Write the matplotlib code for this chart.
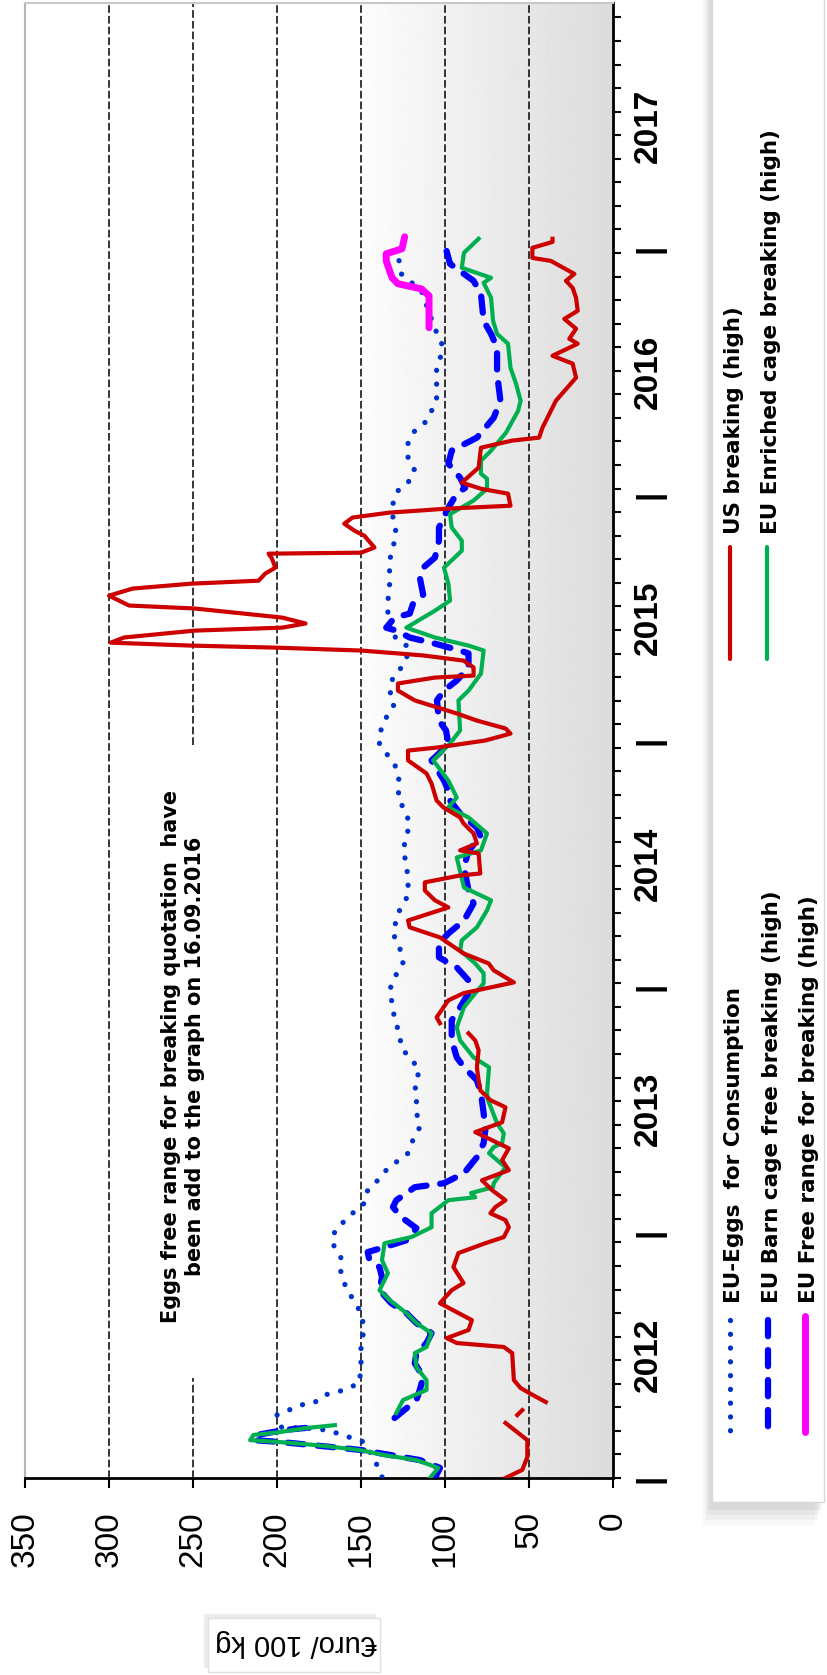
import numpy as np
import matplotlib
matplotlib.use("Agg")
import matplotlib.pyplot as plt
from matplotlib.patches import Rectangle
from matplotlib.ticker import FixedLocator, NullFormatter
import matplotlib.transforms as mtrans

nan = float("nan")

# ---- data (time in decimal years, value in Euro/100 kg) ----
cons_t = [2012.004, 2012.053, 2012.146, 2012.175, 2012.195, 2012.203, 2012.207, 2012.256, 2012.276, 2012.297,
          2012.305, 2012.337, 2012.358, 2012.386, 2012.451, 2012.533, 2012.614, 2012.683, 2012.776, 2012.833,
          2012.898, 2012.955, 2013.008, 2013.077, 2013.118, 2013.171, 2013.211, 2013.252, 2013.280, 2013.321,
          2013.362, 2013.427, 2013.488, 2013.549, 2013.606, 2013.659, 2013.711, 2013.748, 2013.809, 2013.862,
          2013.915, 2013.984, 2014.037, 2014.093, 2014.159, 2014.215, 2014.297, 2014.370, 2014.431, 2014.500,
          2014.553, 2014.663, 2014.715, 2014.768, 2014.825, 2014.890, 2014.939, 2014.988, 2015.028, 2015.093,
          2015.150, 2015.203, 2015.256, 2015.313, 2015.378, 2015.407, 2015.459, 2015.516, 2015.569, 2015.622,
          2015.679, 2015.732, 2015.785, 2015.841, 2015.907, 2015.963, 2016.016, 2016.049, 2016.098, 2016.150,
          2016.211, 2016.260, 2016.293, 2016.341, 2016.382, 2016.435, 2016.516, 2016.573, 2016.618, 2016.675,
          2016.829, 2016.898, 2017.000]
cons_v = [137.5, 140.5, 148, 161, 170, 183, 198, 200, 193, 186,
          178, 172, 160, 151, 150, 150, 148, 151, 159, 162,
          162, 167, 165.5, 155, 148, 146, 140, 135, 130, 122,
          120, 115, 117, 117, 118, 115, 121, 126, 127, 130,
          131, 133, 130, 125, 127, 131, 128, 122, 122, 123,
          125, 121, 124, 128, 127, 129, 134, 139, 139, 135,
          130, 133, 131, 124, 121, 128, 134, 134, 134, 133,
          133, 133, 131, 129, 131, 131, 128, 122, 118, 122,
          122, 118, 112, 108, 105, 105, 105, 102, 102, 106,
          114, 126, 128.6]

barn_t = [2012.0, 2012.041, 2012.073, 2012.114, 2012.146, 2012.154, 2012.175, 2012.195, 2012.207, nan,
          2012.244, 2012.317, 2012.358, 2012.411, 2012.467, 2012.508, 2012.549, 2012.589, 2012.630, 2012.671,
          2012.711, 2012.764, 2012.817, 2012.858, 2012.886, 2012.919, 2012.939, 2012.967, 2013.016, 2013.061,
          2013.102, 2013.130, 2013.163, 2013.183, 2013.199, 2013.240, 2013.305, 2013.362, 2013.415, 2013.484,
          2013.565, 2013.618, 2013.671, 2013.711, 2013.780, 2013.862, 2013.915, 2013.972, 2014.024, 2014.077,
          2014.118, 2014.175, 2014.215, 2014.268, 2014.337, 2014.390, 2014.484, 2014.553, 2014.606, 2014.646,
          2014.703, 2014.756, 2014.797, 2014.837, 2014.919, 2014.947, 2014.988, 2015.041, 2015.081, 2015.163,
          2015.203, 2015.244, 2015.297, 2015.354, 2015.366, 2015.394, 2015.419, 2015.447, 2015.459, 2015.500,
          2015.516, 2015.557, 2015.593, 2015.663, 2015.703, 2015.744, 2015.813, 2015.866, 2015.947, 2016.004,
          2016.028, 2016.069, 2016.126, 2016.179, 2016.232, 2016.313, 2016.382, 2016.492, 2016.598, 2016.654,
          2016.707, 2016.817, 2016.870, 2016.939, 2017.000, 2017.020]
barn_v = [106, 103, 115, 150, 197, 214, 212, 196, 178, nan,
          130, 117, 115, 113, 118, 117, 111, 108, 117, 123,
          132, 139, 137.5, 139, 145, 146, 136, 123, 117, 126,
          131, 129, 122, 118, 100.6, 88.7, 81, 77, 76, 77,
          78.6, 81, 88.7, 93, 96, 96, 91, 86, 86, 93,
          103.6, 103.6, 98, 88.7, 83, 86, 88.7, 86, 78.6, 81,
          91, 97, 98, 100.6, 108, 103.6, 98, 99.4, 103.6, 104.8,
          100.6, 93, 86, 86, 91, 106, 121, 129, 135, 130,
          121, 119, 113, 115, 113, 106, 103.6, 103.6, 98, 93,
          88, 91, 98, 96, 81, 71, 67, 69, 69, 72.6,
          77, 78.6, 83, 97, 99.4, 93.5]

enr_t = [2012.0, 2012.041, 2012.073, 2012.093, 2012.114, 2012.134, 2012.146, 2012.154, 2012.175, 2012.187,
         2012.203, 2012.215, nan,
         2012.264, 2012.317, 2012.358, 2012.398, 2012.451, 2012.508, 2012.533, 2012.589, 2012.630, 2012.671,
         2012.724, 2012.764, 2012.833, 2012.886, 2012.955, 2012.980, 2013.020, 2013.077, 2013.130, 2013.142,
         2013.159, 2013.183, 2013.199, 2013.264, 2013.321, 2013.346, 2013.362, 2013.402, 2013.443, 2013.537,
         2013.565, 2013.671, 2013.711, 2013.780, 2013.833, 2013.915, 2013.972, 2014.012, 2014.053, 2014.093,
         2014.146, 2014.187, 2014.240, 2014.309, 2014.350, 2014.402, 2014.524, 2014.553, 2014.622, 2014.687,
         2014.728, 2014.768, 2014.837, 2014.919, 2014.988, 2015.041, 2015.163, 2015.203, 2015.272, 2015.366,
         2015.386, 2015.419, 2015.459, 2015.528, 2015.569, 2015.638, 2015.703, 2015.772, 2015.813, 2015.866,
         2015.921, 2015.976, 2016.024, 2016.065, 2016.085, 2016.138, 2016.179, 2016.252, 2016.341, 2016.382,
         2016.451, 2016.516, 2016.614, 2016.654, 2016.707, 2016.801, 2016.862, 2016.882, 2016.923, 2016.984,
         2017.041]
enr_v = [109, 104, 117, 136, 151, 177, 198, 216, 214, 198,
         183, 165.5, nan,
         129, 125, 111, 111, 117, 118, 111, 108, 117, 123,
         133, 139, 134, 137.5, 136, 120, 108, 108, 98, 82,
         84.5, 71.4, 71, 64, 73.8, 71, 66, 65, 69, 74.4,
         75, 73.8, 83, 91, 93, 88.7, 82, 77, 77, 82,
         91, 90, 81, 75, 72.6, 88.7, 93, 78.6, 75, 86,
         98, 93, 98, 107, 97, 91, 92, 86, 78.6, 77,
         86, 106, 123, 106, 97, 98, 100.6, 90, 90, 96,
         97, 83, 75, 75, 78.6, 78.6, 72.6, 63.7, 56.5, 55,
         57.7, 61, 62.5, 69, 71.4, 72.6, 77, 72.6, 90, 88.7,
         80]

us_t = [2012.0, 2012.033, 2012.085, 2012.154, 2012.224, nan,
        2012.256, 2012.276, nan,
        2012.309, 2012.337, 2012.366, 2012.398, 2012.508, 2012.533, 2012.549, 2012.569, 2012.602, 2012.642,
        2012.671, 2012.711, 2012.764, 2012.793, 2012.858, 2012.915, 2012.955, 2012.980, 2013.020, 2013.049,
        2013.077, 2013.102, 2013.130, 2013.171, 2013.211, 2013.252, 2013.293, 2013.341, 2013.374, 2013.407,
        2013.447, 2013.508, 2013.537, 2013.577, 2013.618, 2013.671, 2013.740, 2013.780, 2013.809, nan,
        2013.850, 2013.874, 2013.943, 2013.972, 2014.016, 2014.065, 2014.093, 2014.134, 2014.199, 2014.240,
        2014.268, 2014.321, 2014.350, 2014.390, 2014.423, 2014.451, 2014.459, 2014.541, 2014.553, 2014.581,
        2014.622, 2014.663, 2014.687, 2014.728, 2014.756, 2014.825, 2014.866, 2014.919, 2014.959, 2014.972,
        2015.000, 2015.028, 2015.049, 2015.081, 2015.110, 2015.163, 2015.203, 2015.232, 2015.256, 2015.264,
        2015.297, 2015.325, 2015.346, 2015.366, 2015.378, 2015.386, 2015.398, 2015.419, 2015.447, 2015.459,
        2015.476, 2015.500, 2015.537, 2015.549, 2015.589, 2015.618, 2015.638, 2015.650, 2015.679, 2015.703,
        2015.740, 2015.760, 2015.764, 2015.785, 2015.833, 2015.854, 2015.882, 2015.907, 2015.927, 2015.943,
        2015.955, 2016.004, 2016.024, 2016.049, 2016.110, 2016.191, 2016.220, 2016.232, 2016.272, 2016.341,
        2016.382, 2016.476, 2016.533, 2016.565, 2016.614, 2016.634, 2016.675, 2016.715, 2016.748, 2016.801,
        2016.841, 2016.870, 2016.898, 2016.951, 2016.963, 2017.004, 2017.028, 2017.041]
us_v = [64, 54, 51, 51, 64, nan,
        57, 54, nan,
        40, 47.6, 55, 59, 60, 65, 93, 99, 86, 84,
        92, 103, 96, 89, 95, 92, 76, 65, 62, 64,
        73, 70, 64, 72, 78, 62, 66, 62, 72, 82,
        66, 64, 73, 79, 80, 81, 80, 82, 86, nan,
        103, 105, 98, 89, 59, 71, 74, 89, 103, 121,
        122, 98, 106, 112, 112, 91, 79, 80, 91, 81,
        83, 89, 91, 101, 105, 108, 111, 122, 122, 104,
        76, 61, 64, 81, 93, 118, 128, 128, 106, 83,
        83, 89, 113, 150, 202, 251, 299, 291, 249, 197,
        183, 197, 249, 288, 300, 286, 251, 211, 207, 201,
        203, 205, 150, 142, 148, 154, 160, 155, 133, 99,
        61, 62.5, 78.6, 90, 80, 78.6, 60, 44, 42, 37,
        34, 22, 24, 36, 21, 26, 22, 29, 21, 22,
        24, 28, 23, 37, 48, 48, 36, 36]

free_t = [2016.679, 2016.809, 2016.837, 2016.858, 2016.882, 2016.951, 2016.980, 2017.000, 2017.049]
free_v = [109.5, 109.5, 114, 128, 131.5, 135, 135, 125.6, 124]

years = [2012, 2013, 2014, 2015, 2016, 2017]
value_ticks = [0, 50, 100, 150, 200, 250, 300, 350]
grid_values = [50, 100, 150, 200, 250, 300]

C_CONS = "#0033cc"
C_BARN = "#0000ff"
C_ENR = "#00b050"
C_US = "#cc0000"
C_FREE = "#ff00ff"

W, H = 827, 1675
fig = plt.figure(figsize=(W / 100, H / 100), dpi=100)
fig.patch.set_facecolor("white")
ax = fig.add_axes([25 / W, 1 - 1478 / H, 588 / W, 1475 / H])


def fx(px):
    return px / W


def fy(py):
    return 1 - py / H


# background: white on the left, light grey gradient towards 0
grad = np.linspace(0.99, 0.86, 256)
ax.imshow(grad[None, :], extent=[150, 0, 2012, 2018], aspect="auto",
          cmap="gray", vmin=0, vmax=1, zorder=0, interpolation="bilinear")
ax.set_xlim(350, 0)
ax.set_ylim(2012, 2018)

# dashed vertical grid, the 250 line is broken by the note
for g in grid_values:
    if g == 250:
        ax.vlines([g, g], [2012, 2014.98], [2012.407, 2018], colors="black",
                  lw=1.1, linestyles=(0, (5, 2)), zorder=1)
    else:
        ax.axvline(g, color="black", lw=1.1, ls=(0, (5, 2)), zorder=1)

# series
ax.plot(cons_v, cons_t, color=C_CONS, lw=3.8, ls=(0, (0.01, 2.6)),
        dash_capstyle="round", zorder=3)
ax.plot(barn_v, barn_t, color=C_BARN, lw=4.5, ls=(0, (2.6, 2.2)),
        dash_capstyle="round", zorder=4)
ax.plot(enr_v, enr_t, color=C_ENR, lw=3.0, zorder=5, solid_joinstyle="round")
ax.plot(us_v, us_t, color=C_US, lw=3.0, zorder=6, solid_joinstyle="round")
ax.plot(free_v, free_t, color=C_FREE, lw=5.0, zorder=7,
        solid_capstyle="round", solid_joinstyle="round")

# spines
ax.spines["left"].set_color("#b5b5b5")
ax.spines["left"].set_linewidth(1.5)
ax.spines["top"].set_color("#c8c8c8")
ax.spines["top"].set_linewidth(1.5)
ax.spines["bottom"].set_color("black")
ax.spines["bottom"].set_linewidth(2)
ax.spines["right"].set_color("black")
ax.spines["right"].set_linewidth(2)

# value axis (bottom)
ax.xaxis.set_major_locator(FixedLocator(value_ticks))
ax.set_xticklabels([str(v) for v in value_ticks], rotation=90,
                   family="Liberation Sans", fontsize=24)
ax.tick_params(axis="x", direction="out", length=7, width=1.5, pad=17)

# time axis (right), minor ticks every 5 weeks
ax.yaxis.tick_right()
tick_pos = np.arange(2012, 2018.001, 35 / 365.25)
ax.yaxis.set_major_locator(FixedLocator(tick_pos))
ax.yaxis.set_major_formatter(NullFormatter())
ax.tick_params(axis="y", direction="out", length=6, width=1.5)

yt = mtrans.blended_transform_factory(ax.transAxes, ax.transData)
for y in years:
    ax.text(1.0595, y + 0.5, str(y), transform=yt, rotation=90, ha="center",
            va="center", fontsize=24, fontweight="bold", family="Liberation Sans")
for y in years:
    ax.text(1.063, y, "|", transform=yt, rotation=90, ha="center", va="center",
            fontsize=24, fontweight="bold", family="Liberation Sans", clip_on=False)

# note
ax.text(256, 2013.715,
        "Eggs free range for breaking quotation  have\nbeen add to the graph on 16.09.2016",
        rotation=90, ha="center", va="center", multialignment="center",
        fontsize=15, fontweight="bold", linespacing=1.3, zorder=8)

# legend box with soft shadow
for i, a in enumerate([0.06, 0.08, 0.10, 0.12]):
    d = 9 - i * 2
    fig.add_artist(Rectangle((fx(712 - d), fy(1502 + 2.5 * d)), fx(112), 1.0,
                             transform=fig.transFigure, facecolor="#909090",
                             edgecolor="none", alpha=a, zorder=1))
fig.add_artist(Rectangle((fx(712), fy(1502)), fx(112), 1.0,
                         transform=fig.transFigure, facecolor="white",
                         edgecolor="#d8d8d8", lw=1, zorder=2))

legend_rows = [
    ("US breaking (high)", C_US, "-", 730, 547, 659, 534),
    ("EU Enriched cage breaking (high)", C_ENR, "-", 767, 547, 659, 534),
    ("EU-Eggs  for Consumption", C_CONS, "dot", 730, 1320, 1432, 1303),
    ("EU Barn cage free breaking (high)", C_BARN, "dash", 768, 1320, 1432, 1303),
    ("EU Free range for breaking (high)", C_FREE, "thick", 805, 1316, 1432, 1303),
]
for label, col, sty, x, y0, y1, ytxt in legend_rows:
    kw = dict(color=col, transform=fig.transFigure, zorder=3)
    if sty == "dot":
        kw.update(lw=3.8, ls=(0, (0.01, 2.6)), dash_capstyle="round")
    elif sty == "dash":
        kw.update(lw=4.5, ls=(0, (2.6, 2.2)), dash_capstyle="round")
    elif sty == "thick":
        kw.update(lw=5.0, solid_capstyle="round")
    else:
        kw.update(lw=3.0, solid_capstyle="round")
    fig.add_artist(plt.Line2D([fx(x), fx(x)], [fy(y0), fy(y1)], **kw))
    fig.text(fx(x + 4), fy(ytxt), label, rotation=90, rotation_mode="anchor",
             ha="left", va="center", fontsize=15.5, fontweight="bold", zorder=4)

# unit label, upside down in a small box
fig.add_artist(Rectangle((fx(204), fy(1668)), fx(172), 54 / H,
                         transform=fig.transFigure, facecolor="#a0a0a0",
                         edgecolor="none", alpha=0.2, zorder=1))
fig.add_artist(Rectangle((fx(208), fy(1672)), fx(172), 54 / H,
                         transform=fig.transFigure, facecolor="white",
                         edgecolor="#e0e0e0", lw=1, zorder=2))
fig.text(fx(296), fy(1643), "€uro/ 100 kg", rotation=180, ha="center", va="center",
         fontsize=21, family=["Liberation Sans Narrow", "Liberation Sans", "DejaVu Sans"],
         zorder=3)

fig.savefig("out.png", dpi=100)
